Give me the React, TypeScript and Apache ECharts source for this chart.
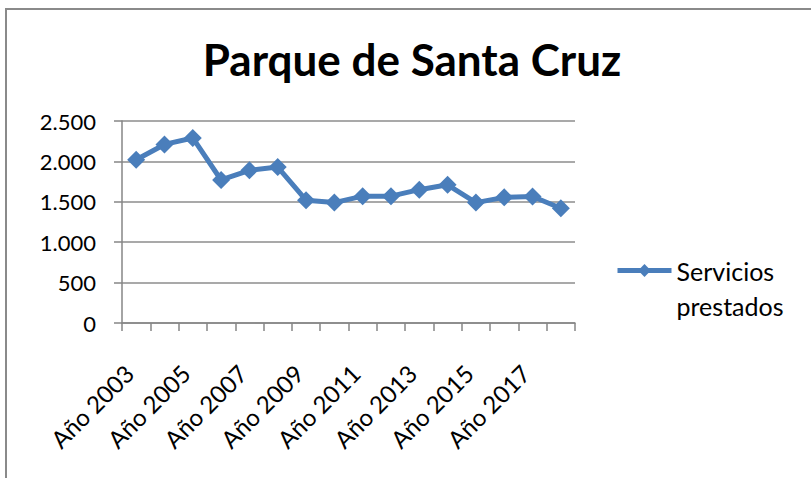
import React, { useEffect, useRef } from "react";
import * as echarts from "echarts";

const titleText = "Parque de Santa Cruz";
const seriesName = "Servicios prestados";
const categories = [
  "Año 2003", "Año 2004", "Año 2005", "Año 2006", "Año 2007", "Año 2008",
  "Año 2009", "Año 2010", "Año 2011", "Año 2012", "Año 2013", "Año 2014",
  "Año 2015", "Año 2016", "Año 2017", "Año 2018",
];
const serviciosPrestados = [
  2020, 2210, 2290, 1770, 1890, 1930, 1520, 1490, 1570, 1570, 1650, 1710,
  1490, 1555, 1565, 1420,
];
const yMin = 0;
const yMax = 2500;
const yInterval = 500;

const fmt = (v: number) =>
  v >= 1000 ? `${Math.floor(v / 1000)}.${String(v % 1000).padStart(3, "0")}` : String(v);

export default function App() {
  const ref = useRef<HTMLDivElement>(null);
  useEffect(() => {
    if (!ref.current) return;
    const chart = echarts.init(ref.current, undefined, { renderer: "svg" });
    const font = "Lato, 'Open Sans', sans-serif";
    chart.setOption({
      animation: false,
      backgroundColor: "#ffffff",
      title: {
        text: titleText,
        left: 407,
        textAlign: "center",
        top: 32,
        textStyle: { fontFamily: font, fontWeight: "bold", fontSize: 44, color: "#000" },
      },
      graphic: [
        {
          type: "rect",
          shape: { x: 6, y: 9, width: 900, height: 600 },
          style: { fill: "none", stroke: "#8a8a8a", lineWidth: 2 },
          silent: true,
        },
      ],
      legend: {
        left: 610,
        top: 213,
        orient: "vertical",
        itemWidth: 54,
        itemHeight: 16,
        itemGap: 0,
        formatter: () => " \nServicios\nprestados",
        lineStyle: { width: 5, color: "#4a7ebb" },
        textStyle: {
          fontFamily: font,
          fontSize: 25,
          color: "#000",
          lineHeight: 35,
        },
        data: [seriesName],
      },
      grid: { left: 122, right: 236, top: 121, bottom: 155, containLabel: false },
      xAxis: {
        type: "category",
        data: categories,
        boundaryGap: true,
        axisLine: { lineStyle: { color: "#868686", width: 1.5 } },
        axisTick: { show: true, length: 8, interval: 0, lineStyle: { color: "#868686", width: 1.5 } },
        axisLabel: {
          interval: 1,
          rotate: 45,
          margin: 39,
          padding: [0, 10, 0, 0],
          fontFamily: font,
          fontSize: 24,
          color: "#000",
        },
      },
      yAxis: {
        type: "value",
        min: yMin,
        max: yMax,
        interval: yInterval,
        axisLine: { show: true, lineStyle: { color: "#868686", width: 1.5 } },
        axisTick: { show: true, length: 8, lineStyle: { color: "#868686", width: 1.5 } },
        splitLine: { show: true, lineStyle: { color: "#8c8c8c", width: 1.5 } },
        axisLabel: {
          formatter: fmt,
          margin: 26,
          fontFamily: font,
          fontSize: 22,
          color: "#000",
        },
      },
      series: [
        {
          name: seriesName,
          type: "line",
          data: serviciosPrestados,
          symbol: "diamond",
          symbolSize: 18,
          lineStyle: { color: "#4a7ebb", width: 5 },
          itemStyle: { color: "#4a7ebb" },
        },
      ],
    });
    return () => chart.dispose();
  }, []);
  return (
    <div
      ref={ref}
      style={{ position: "fixed", left: 0, top: 0, width: 811, height: 478 }}
    />
  );
}
